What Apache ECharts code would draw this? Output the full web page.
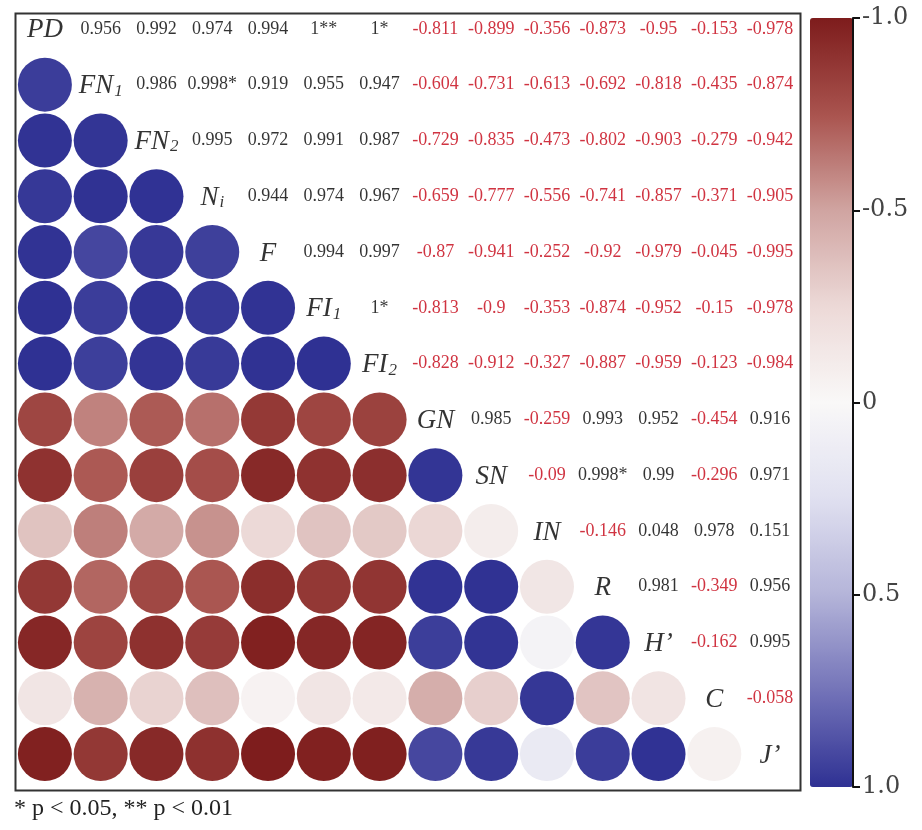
<!DOCTYPE html>
<html>
<head>
<meta charset="utf-8">
<script src="https://cdn.jsdelivr.net/npm/echarts@6/dist/echarts.min.js"></script>
<style>
html,body{margin:0;padding:0;background:#fff;}
#chart{width:922px;height:830px;}
</style>
</head>
<body>
<div id="chart"></div>
<script>
// Variable names (diagonal) – main part and subscript
const labelMain = ['PD','FN','FN','N','F','FI','FI','GN','SN','IN','R','H\u2019','C','J\u2019'];
const labelSub  = ['','1','2','i','','1','2','','','','','','',''];

// Upper-triangle correlation values (row i, columns i+1 .. 13), with significance marks
const rowPD  = ['0.956','0.992','0.974','0.994','1**','1*','-0.811','-0.899','-0.356','-0.873','-0.95','-0.153','-0.978'];
const rowFN1 = ['0.986','0.998*','0.919','0.955','0.947','-0.604','-0.731','-0.613','-0.692','-0.818','-0.435','-0.874'];
const rowFN2 = ['0.995','0.972','0.991','0.987','-0.729','-0.835','-0.473','-0.802','-0.903','-0.279','-0.942'];
const rowNi  = ['0.944','0.974','0.967','-0.659','-0.777','-0.556','-0.741','-0.857','-0.371','-0.905'];
const rowF   = ['0.994','0.997','-0.87','-0.941','-0.252','-0.92','-0.979','-0.045','-0.995'];
const rowFI1 = ['1*','-0.813','-0.9','-0.353','-0.874','-0.952','-0.15','-0.978'];
const rowFI2 = ['-0.828','-0.912','-0.327','-0.887','-0.959','-0.123','-0.984'];
const rowGN  = ['0.985','-0.259','0.993','0.952','-0.454','0.916'];
const rowSN  = ['-0.09','0.998*','0.99','-0.296','0.971'];
const rowIN  = ['-0.146','0.048','0.978','0.151'];
const rowR   = ['0.981','-0.349','0.956'];
const rowH   = ['-0.162','0.995'];
const rowC   = ['-0.058'];

// Colour bar ticks
const barTicks = [-1, -0.5, 0, 0.5, 1];
const barTickLabels = ['-1.0','-0.5','0','0.5','1.0'];

const upperRows = [rowPD,rowFN1,rowFN2,rowNi,rowF,rowFI1,rowFI2,rowGN,rowSN,rowIN,rowR,rowH,rowC];
const n = labelMain.length;
const cats = labelMain.map((_, i) => String(i));

function val(i, j) { // i<j
  return parseFloat(upperRows[i][j - i - 1]);
}

const circleData = [];
const textData = [];
const diagData = [];
for (let i = 0; i < n; i++) {
  for (let j = 0; j < n; j++) {
    if (i > j) {
      circleData.push([j, i, val(j, i)]);
    } else if (i < j) {
      const s = upperRows[i][j - i - 1];
      textData.push({
        name: s,
        value: [j, i, parseFloat(s)],
        label: { color: parseFloat(s) < 0 ? '#c40012' : '#000' }
      });
    } else {
      diagData.push({ name: String(i), value: [j, i] });
    }
  }
}

const serif = '"Liberation Serif", "Times New Roman", serif';

const chart = echarts.init(document.getElementById('chart'), null, { renderer: 'canvas' });
chart.setOption({
  backgroundColor: '#fff',
  animation: false,
  grid: [
    { left: 17, top: 1, width: 781, height: 781 },
    { left: 810, top: 18, width: 43, height: 769 }
  ],
  xAxis: [
    { type: 'category', data: cats, gridIndex: 0, show: false },
    { type: 'value', gridIndex: 1, show: false, min: 0, max: 1 }
  ],
  yAxis: [
    { type: 'category', data: cats, gridIndex: 0, inverse: true, show: false },
    {
      type: 'value', gridIndex: 1, min: -1, max: 1, interval: 0.5, inverse: true,
      position: 'right', z: 20,
      axisLine: { show: true, onZero: false, lineStyle: { color: '#111', width: 2 } },
      axisTick: { show: true, inside: false, length: 7, lineStyle: { color: '#111', width: 2 } },
      splitLine: { show: false },
      axisLabel: {
        fontFamily: '"DejaVu Serif", serif', fontSize: 24, color: '#444', margin: 9,
        formatter: v => { const k = barTicks.indexOf(v); return k >= 0 ? barTickLabels[k] : ''; }
      }
    }
  ],
  visualMap: {
    type: 'continuous',
    seriesIndex: 0,
    min: -1, max: 1,
    inverse: true,
    calculable: false,
    orient: 'vertical',
    left: 810, top: 18,
    itemWidth: 43, itemHeight: 769,
    padding: 0,
    text: null,
    showLabel: false,
    inRange: {
      color: ['#7d1c1c','#a9534e','#d0a4a1','#ecd9d7','#f9f8f8','#e0e0f0','#b4b4d9','#7373b8','#2f3193']
    }
  },
  graphic: [
    {
      type: 'rect', left: 13, top: 11, z: -1,
      shape: { width: 785, height: 777 },
      style: { fill: 'none', stroke: '#333', lineWidth: 2 }
    },
    {
      type: 'text', left: 14, top: 797,
      style: { text: '* p < 0.05, ** p < 0.01', fontFamily: serif, fontSize: 24, fill: '#222' }
    }
  ],
  series: [
    {
      type: 'scatter', xAxisIndex: 0, yAxisIndex: 0,
      data: circleData, symbol: 'circle', symbolSize: 54,
      itemStyle: { opacity: 1 }
    },
    {
      type: 'scatter', xAxisIndex: 0, yAxisIndex: 0,
      data: textData, symbolSize: 1,
      itemStyle: { color: 'rgba(0,0,0,0)' },
      label: { show: true, position: 'inside', formatter: '{b}', fontFamily: serif, fontSize: 18 }
    },
    {
      type: 'scatter', xAxisIndex: 0, yAxisIndex: 0,
      data: diagData, symbolSize: 1,
      itemStyle: { color: 'rgba(0,0,0,0)' },
      label: {
        show: true, position: 'inside', color: '#000',
        formatter: p => {
          const k = parseInt(p.name, 10);
          return '{m|' + labelMain[k] + '}' + (labelSub[k] ? '{s|' + labelSub[k] + '}' : '');
        },
        rich: {
          m: { fontFamily: serif, fontStyle: 'italic', fontSize: 27, color: '#000', verticalAlign: 'bottom', lineHeight: 30 },
          s: { fontFamily: serif, fontStyle: 'italic', fontSize: 17, color: '#000', verticalAlign: 'bottom', lineHeight: 30, padding: [12, 0, 0, 1] }
        }
      }
    }
  ]
});
</script>
</body>
</html>
